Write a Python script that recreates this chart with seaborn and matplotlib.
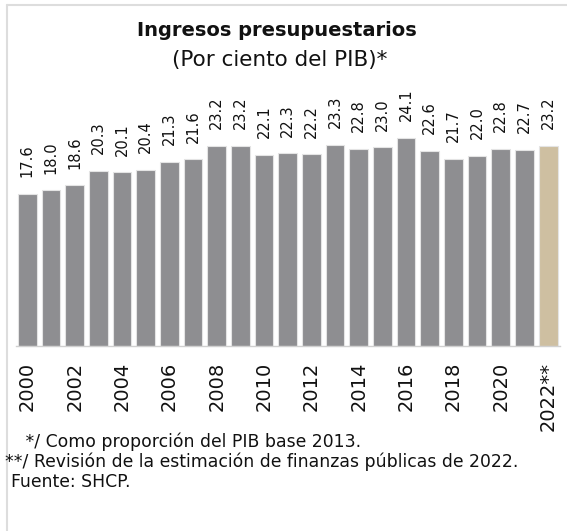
import matplotlib
matplotlib.use("Agg")
import matplotlib.pyplot as plt
import seaborn as sns
from matplotlib.lines import Line2D

years = [str(y) for y in range(2000, 2023)]
values = [17.6, 18.0, 18.6, 20.3, 20.1, 20.4, 21.3, 21.6, 23.2, 23.2, 22.1,
          22.3, 22.2, 23.3, 22.8, 23.0, 24.1, 22.6, 21.7, 22.0, 22.8, 22.7, 23.2]
tick_labels = ["2000", "2002", "2004", "2006", "2008", "2010", "2012",
               "2014", "2016", "2018", "2020", "2022**"]
title = "Ingresos presupuestarios"
subtitle = "(Por ciento del PIB)*"
notes = [" */ Como proporción del PIB base 2013.",
         "**/ Revisión de la estimación de finanzas públicas de 2022.",
         "Fuente: SHCP."]

GRAY = "#8E8D92"
GOLD = "#D5C19A"
colors = [GRAY] * (len(years) - 1) + [GOLD]

sns.set_theme(style="white")
plt.rcParams["font.family"] = ["DejaVu Sans"]

W, H = 567, 531
fig = plt.figure(figsize=(W / 100, H / 100), dpi=100)
ax = fig.add_axes([15.5 / W, (H - 346) / H, (560 - 15.5) / W, (346 - 80) / H])

sns.barplot(x=years, y=values, hue=years, palette=colors, legend=False,
            width=0.79, edgecolor="#E4E4E4", linewidth=0.8, ax=ax)

for c in ax.containers:
    ax.bar_label(c, fmt="%.1f", rotation=90, padding=12, fontsize=10.5,
                 color="#111111")

ax.set_ylim(0, (346 - 80) / 8.64)
ax.set_xlim(-0.5, len(years) - 0.5)
ax.set_xticks(range(0, len(years), 2))
ax.set_xticklabels(tick_labels, rotation=90, fontsize=14, va="top", color="#111111")
ax.tick_params(axis="x", length=0, pad=11.5)
ax.set_yticks([])
ax.set_xlabel("")
ax.set_ylabel("")
for s in ["left", "right", "top"]:
    ax.spines[s].set_visible(False)
ax.spines["bottom"].set_color("#D0D0D0")
ax.spines["bottom"].set_linewidth(1.0)

fig.text(277 / W, 1 - 31 / H, title, ha="center", va="center", fontsize=14,
         fontweight="bold", color="#111111")
fig.text(280 / W, 1 - 60 / H, subtitle, ha="center", va="center", fontsize=15.5,
         color="#111111")

for x, y, t in [(20, 442, notes[0]), (5, 462, notes[1]), (11, 482, notes[2])]:
    fig.text(x / W, 1 - y / H, t, ha="left", va="center", fontsize=12.4,
             color="#111111")

fig.add_artist(Line2D([6.5 / W, 6.5 / W], [0, 1 - 5 / H], transform=fig.transFigure,
                      color="#DDDDDD", linewidth=1.5))
fig.add_artist(Line2D([6.5 / W, 1], [1 - 5 / H, 1 - 5 / H], transform=fig.transFigure,
                      color="#DDDDDD", linewidth=1.5))

fig.savefig("out.png", dpi=100)
